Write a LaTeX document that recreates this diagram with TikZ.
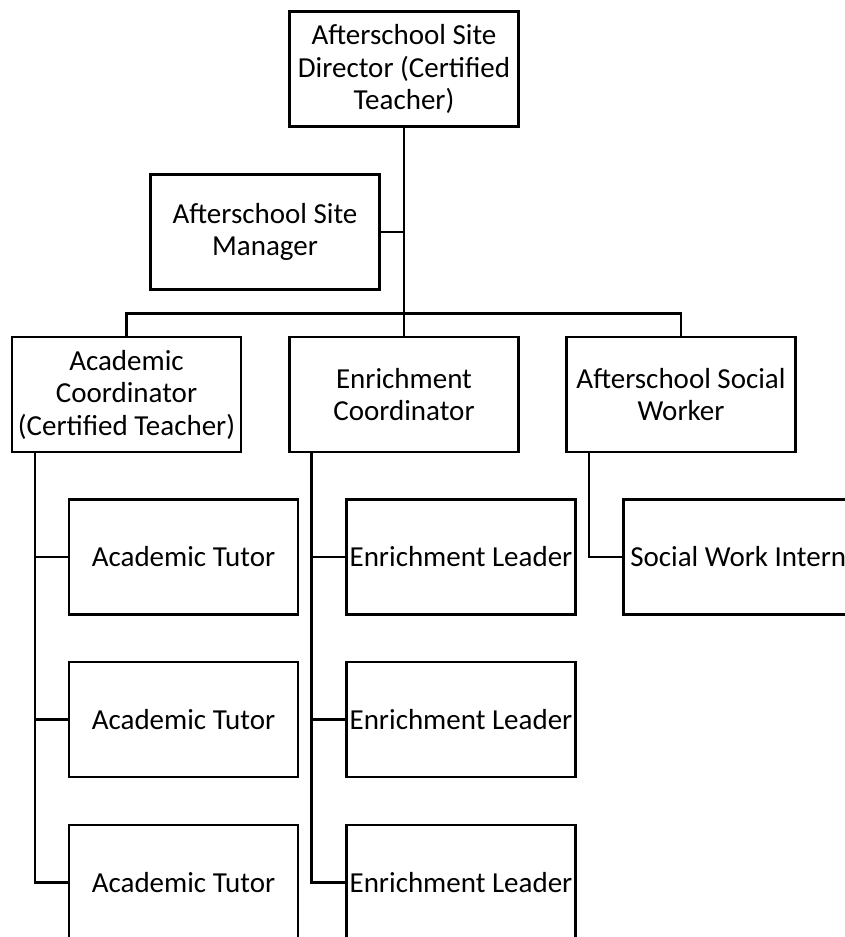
\documentclass[tikz,border=0pt]{standalone}
\usepackage{fontspec}
\setmainfont{Carlito}
\begin{document}
\begin{tikzpicture}[x=1pt,y=-1pt,
  orgbox/.style={draw=black, line width=2.5pt, fill=white, rectangle,
    minimum width=229pt, minimum height=115pt, inner sep=0pt, align=center,
    font=\fontsize{29}{32.5}\selectfont},
  link/.style={draw=black, line width=2.5pt}]
\useasboundingbox (0,0) rectangle (845,937);
\fill[white] (0,0) rectangle (845,937);
\clip (0,0) rectangle (845,937);

\node[orgbox] (dir) at (404,69.2) {Afterschool Site\\Director (Certified\\Teacher)};
\node[orgbox] (mgr) at (265,231.8) {Afterschool Site\\Manager};
\node[orgbox] (acad) at (126.5,394.5) {Academic\\Coordinator\\(Certified Teacher)};
\node[orgbox] (enr) at (404,394.5) {Enrichment\\Coordinator};
\node[orgbox] (soc) at (681,394.5) {Afterschool Social\\Worker};

\node[orgbox] (t1) at (183.5,556.8) {Academic Tutor};
\node[orgbox] (t2) at (183.5,719.5) {Academic Tutor};
\node[orgbox] (t3) at (183.5,882.5) {Academic Tutor};
\node[orgbox] (l1) at (461,556.8) {Enrichment Leader};
\node[orgbox] (l2) at (461,719.5) {Enrichment Leader};
\node[orgbox] (l3) at (461,882.5) {Enrichment Leader};
\node[orgbox] (i1) at (738.2,556.8) {Social Work Intern};

\coordinate (bus) at (404,313.3);
\path[link] (dir.south) -- (enr.north);
\path[link] (mgr.east) -- (mgr.east -| dir.south);
\path[link] (acad.north) |- (bus) -| (soc.north);

\coordinate (ad) at (35,451.7);
\coordinate (ed) at (311.6,451.7);
\coordinate (sd) at (589,451.7);
\path[link] (ad) |- (t3.west);
\path[link] (ad) |- (t1.west);
\path[link] (ad) |- (t2.west);
\path[link] (ed) |- (l3.west);
\path[link] (ed) |- (l1.west);
\path[link] (ed) |- (l2.west);
\path[link] (sd) |- (i1.west);
\end{tikzpicture}
\end{document}
